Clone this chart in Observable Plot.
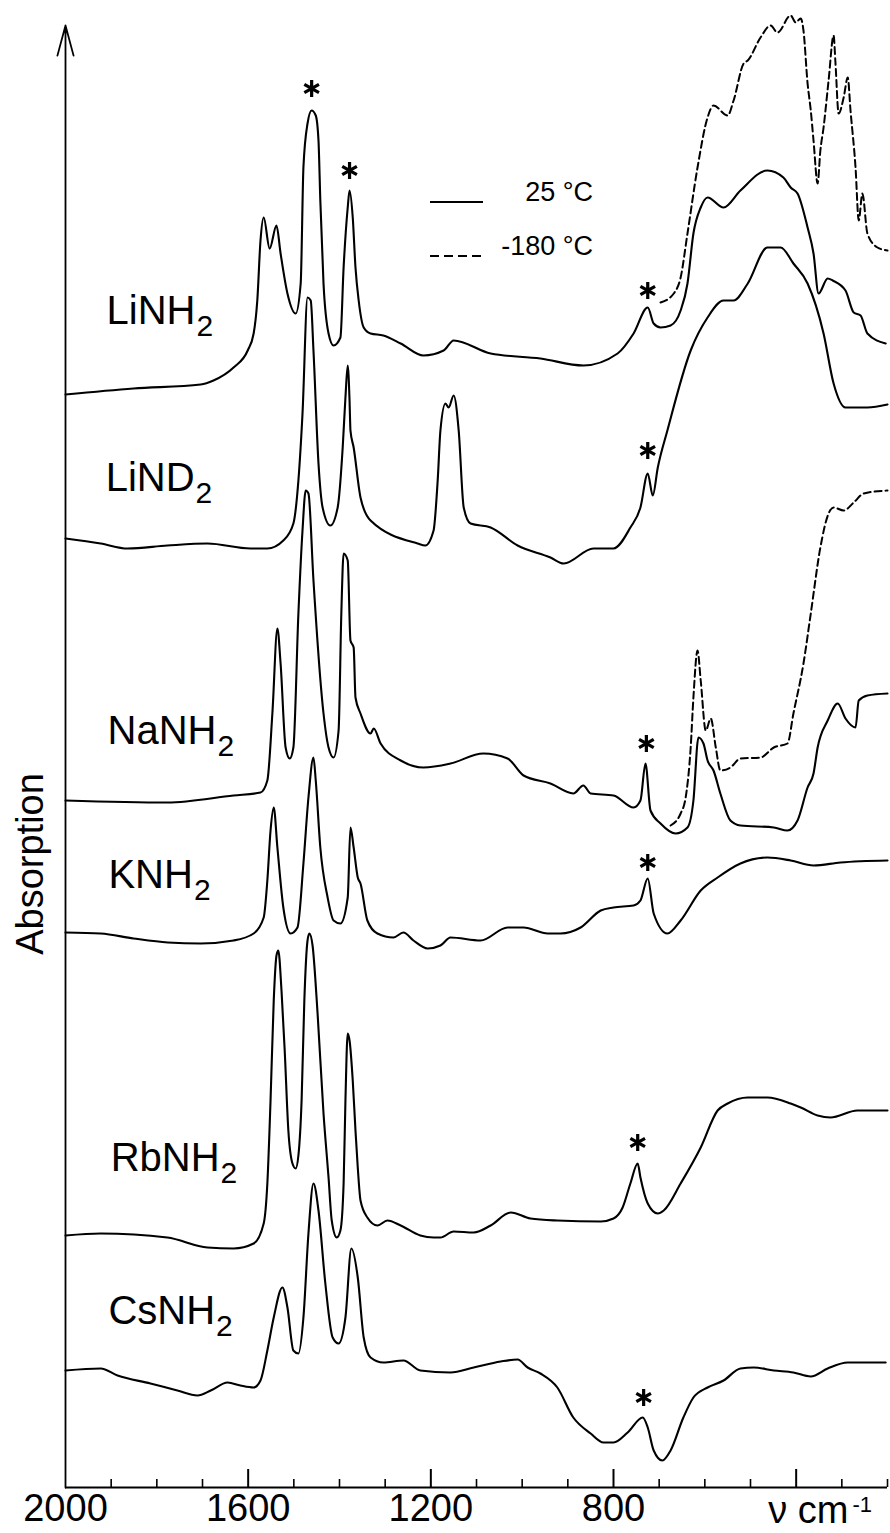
<!DOCTYPE html>
<html>
<head>
<meta charset="utf-8">
<script src="https://cdn.jsdelivr.net/npm/d3@7"></script>
<script src="https://cdn.jsdelivr.net/npm/@observablehq/plot@0.6"></script>
<style>
  html, body { margin: 0; padding: 0; background: #fff; }
  #chart { width: 890px; height: 1533px; }
</style>
</head>
<body>
<div id="chart"></div>
<script>
// ---------- DATA (wavenumber in cm-1, absorption in arbitrary stacked units) ----------
const liNH2_25 = [[2000,1093],[1851,1099],[1704,1103],[1676,1107],[1632,1120],[1601,1137],[1588,1154],[1580,1187],[1573,1247],[1566,1270],[1553,1239],[1538,1262],[1529,1234],[1514,1194],[1496,1174],[1485,1204],[1479,1320],[1470,1364],[1461,1377],[1452,1372],[1446,1347],[1442,1287],[1435,1204],[1424,1154],[1413,1142],[1398,1150],[1391,1220],[1382,1280],[1378,1297],[1371,1270],[1365,1220],[1358,1187],[1347,1160],[1332,1154],[1304,1152],[1266,1144],[1216,1132],[1172,1137],[1150,1147],[1069,1134],[960,1129],[866,1122],[791,1134],[756,1154],[725,1180],[712,1164],[697,1160],[675,1162],[653,1177],[638,1204],[625,1254],[609,1280],[594,1290],[559,1280],[522,1297],[463,1317],[428,1310],[412,1300],[397,1294],[375,1260],[362,1234],[351,1194],[331,1209],[320,1207],[292,1197],[274,1175],[259,1172],[244,1154],[204,1144]];
const liNH2_m180 = [[697,1185],[668,1194],[653,1210],[638,1254],[616,1320],[594,1370],[581,1382],[550,1372],[537,1387],[515,1424],[506,1427],[478,1450],[456,1462],[441,1455],[412,1472],[401,1465],[390,1469],[384,1457],[375,1404],[368,1377],[362,1347],[353,1304],[347,1337],[340,1360],[329,1407],[318,1452],[314,1425],[307,1374],[296,1390],[287,1410],[281,1377],[270,1320],[263,1267],[255,1294],[244,1254],[222,1240],[200,1237]];
const liND2_25 = [[2000,949],[1923,944],[1864,939],[1777,942],[1689,944],[1595,939],[1558,939],[1523,947],[1501,964],[1490,1007],[1481,1074],[1470,1190],[1463,1187],[1457,1137],[1446,1024],[1437,980],[1420,962],[1404,980],[1393,1040],[1387,1090],[1382,1122],[1378,1087],[1376,1057],[1369,1040],[1354,990],[1332,967],[1229,944],[1212,942],[1194,957],[1185,1007],[1179,1057],[1168,1084],[1161,1080],[1150,1092],[1139,1057],[1128,980],[1113,964],[1069,960],[1010,942],[938,930],[909,924],[844,939],[800,939],[763,960],[741,980],[725,1014],[714,992],[703,1020],[682,1057],[631,1137],[594,1170],[559,1187],[537,1187],[506,1204],[463,1240],[434,1240],[406,1224],[375,1204],[340,1154],[318,1104],[292,1080],[244,1080],[200,1083]];
const naNH2_25 = [[2000,687],[1777,685],[1632,692],[1573,695],[1558,707],[1547,774],[1536,859],[1529,824],[1518,740],[1509,729],[1501,740],[1490,874],[1481,957],[1474,997],[1468,994],[1457,907],[1435,774],[1424,740],[1413,730],[1402,757],[1396,874],[1391,934],[1382,927],[1376,847],[1369,840],[1365,790],[1354,774],[1332,754],[1325,759],[1310,744],[1266,727],[1216,720],[1157,724],[1085,734],[1032,729],[997,712],[938,704],[888,694],[866,702],[850,694],[800,692],[756,680],[741,687],[730,724],[719,677],[697,664],[664,654],[638,660],[625,687],[614,750],[603,744],[594,727],[581,717],[566,694],[544,667],[522,662],[449,660],[419,657],[397,667],[375,700],[362,714],[353,740],[331,767],[309,784],[292,769],[270,760],[263,787],[244,792],[200,794]];
const naNH2_m180 = [[675,662],[653,674],[642,690],[631,740],[625,790],[616,837],[609,807],[598,757],[587,769],[576,740],[566,717],[544,720],[522,729],[478,730],[449,740],[419,744],[406,774],[384,824],[368,874],[347,940],[329,974],[318,980],[296,977],[274,985],[252,994],[200,997]];
const kNH2_25 = [[2000,555],[1923,554],[1851,549],[1776,545],[1704,544],[1632,547],[1588,554],[1566,570],[1558,607],[1551,657],[1544,680],[1536,640],[1523,580],[1507,554],[1492,560],[1479,624],[1468,690],[1457,730],[1452,707],[1442,640],[1426,590],[1413,567],[1398,564],[1382,590],[1376,660],[1369,640],[1360,610],[1354,604],[1339,567],[1317,554],[1282,550],[1260,555],[1238,547],[1207,539],[1179,542],[1157,550],[1091,547],[1032,560],[997,560],[944,554],[916,554],[872,560],[828,577],[800,580],[756,582],[741,587],[725,609],[712,574],[682,554],[653,567],[609,597],[572,610],[522,624],[463,630],[412,627],[362,622],[303,625],[200,627]];
const rbNH2_25 = [[2000,252],[1923,254],[1777,250],[1689,240],[1632,239],[1588,244],[1566,264],[1558,304],[1551,387],[1544,487],[1538,532],[1534,537],[1527,497],[1520,437],[1512,357],[1503,324],[1496,319],[1490,332],[1483,387],[1477,487],[1470,547],[1466,554],[1459,542],[1448,474],[1435,374],[1424,310],[1417,267],[1406,250],[1398,257],[1391,304],[1387,387],[1382,454],[1378,447],[1371,407],[1365,357],[1360,320],[1354,287],[1339,270],[1317,262],[1295,267],[1266,262],[1223,252],[1194,250],[1179,250],[1150,256],[1106,255],[1069,262],[1025,275],[982,269],[923,267],[828,266],[800,269],[780,280],[763,304],[747,324],[741,310],[725,284],[703,274],[690,277],[653,304],[609,340],[572,377],[550,384],[506,390],[463,390],[412,384],[390,380],[353,372],[325,370],[266,377],[200,377]];
const csNH2_25 = [[2000,117],[1923,119],[1886,112],[1814,104],[1755,97],[1711,92],[1682,97],[1645,105],[1617,102],[1588,100],[1573,107],[1558,137],[1544,170],[1525,200],[1514,180],[1501,137],[1490,134],[1479,170],[1468,254],[1457,304],[1446,277],[1431,204],[1415,150],[1402,144],[1387,170],[1374,239],[1360,210],[1347,150],[1332,130],[1304,125],[1260,127],[1223,117],[1157,115],[1106,120],[1047,126],[1010,128],[988,120],[960,114],[923,100],[888,70],[850,54],[822,45],[800,45],[769,55],[736,70],[725,60],[712,37],[693,27],[675,37],[647,70],[625,90],[594,100],[559,107],[522,119],[493,120],[449,117],[406,115],[368,111],[331,119],[287,125],[204,125]];

// starred bands (nujol)
const starNu = [1461, 1378, 725, 725, 728, 725, 747, 734];
const starA  = [1399, 1317, 1197, 1037, 744, 625, 345, 90];

// compound labels
const labelNames = ["LiNH2", "LiND2", "NaNH2", "KNH2", "RbNH2", "CsNH2"];
const labelNu    = [1910, 1912, 1908, 1906, 1901, 1906];
const labelA     = [1164, 997, 744, 600, 317, 164];

// axis
const tickLabels = [2000, 1600, 1200, 800];
const majorTicks = [1600, 1200, 800, 400];
const minorTicks = [1900, 1800, 1700, 1500, 1400, 1300, 1100, 1000, 900, 700, 600, 500, 300, 200];
const unitLabel = [{nu: 400, text: "ν cm"}];
const unitSup = "-1";
const legendLabels = ["25 °C", "-180 °C"];
const axisTop = 1462;

// ---------- build tables ----------
const series = [
  {name: "LiNH2", temp: "25", values: liNH2_25},
  {name: "LiNH2", temp: "-180", values: liNH2_m180},
  {name: "LiND2", temp: "25", values: liND2_25},
  {name: "NaNH2", temp: "25", values: naNH2_25},
  {name: "NaNH2", temp: "-180", values: naNH2_m180},
  {name: "KNH2", temp: "25", values: kNH2_25},
  {name: "RbNH2", temp: "25", values: rbNH2_25},
  {name: "CsNH2", temp: "25", values: csNH2_25}
];
const rows = series.flatMap(s => s.values.map(([nu, a]) => ({key: s.name + "_" + s.temp, temp: s.temp, nu, a})));
const warm = rows.filter(d => d.temp === "25");
const cold = rows.filter(d => d.temp === "-180");
const stars = starNu.map((nu, i) => ({nu, a: starA[i]}));
const labels = labelNames.map((name, i) => ({name, nu: labelNu[i], a: labelA[i]}));

const FONT = "'Liberation Sans', Arial, Helvetica, sans-serif";

const svg = Plot.plot({
  width: 890,
  height: 1533,
  marginLeft: 65,
  marginRight: 3,
  marginTop: 0,
  marginBottom: 46,
  style: {background: "#fff", fontFamily: FONT, color: "#000", overflow: "visible"},
  x: {domain: [2000, 200], axis: null},
  y: {domain: [0, 1487], axis: null},
  marks: [
    Plot.ruleY([0], {stroke: "#000", strokeWidth: 2}),
    Plot.arrow([{nu: 2000, a0: 0, a1: axisTop}], {x1: "nu", x2: "nu", y1: "a0", y2: "a1", stroke: "#000", strokeWidth: 1.8, headLength: 26, headAngle: 30}),
    Plot.ruleX(majorTicks, {x: d => d, y1: () => 0, y2: () => 18, stroke: "#000", strokeWidth: 2}),
    Plot.ruleX(minorTicks, {x: d => d, y1: () => 0, y2: () => 8, stroke: "#000", strokeWidth: 1.6}),
    Plot.text(tickLabels, {x: d => d, y: () => 0, text: d => String(d), dy: 33, lineAnchor: "bottom", fontSize: 38, fill: "#000"}),
    Plot.text(unitLabel, {x: "nu", y: () => 0, text: "text", dx: -28, dy: 35, textAnchor: "start", lineAnchor: "bottom", fontSize: 38, fill: "#000"}),
    Plot.line(warm, {x: "nu", y: "a", z: "key", stroke: "#000", strokeWidth: 2.1, curve: "monotone-x"}),
    Plot.line(cold, {x: "nu", y: "a", z: "key", stroke: "#000", strokeWidth: 2, strokeDasharray: "7,4", curve: "monotone-x"}),
    Plot.dot(stars, {x: "nu", y: "a", symbol: "asterisk", r: 8, stroke: "#000", strokeWidth: 3.2, fill: "none"}),
    Plot.text(labels, {x: "nu", y: "a", text: "name", textAnchor: "start", lineAnchor: "bottom", fontSize: 40, fill: "#000"})
  ]
});

// subscripts in compound labels, superscript in unit label
d3.select(svg).selectAll("text").each(function () {
  const s = this.textContent;
  if (labelNames.includes(s)) {
    this.textContent = s.slice(0, -1);
    d3.select(this).append("tspan").attr("dx", 1).attr("dy", 12).attr("font-size", 30).text(s.slice(-1));
  } else if (s === unitLabel[0].text) {
    d3.select(this).append("tspan").attr("dx", 4).attr("dy", -11).attr("font-size", 22).text(unitSup);
  }
});

// y-axis title
const root = d3.select(svg);
root.append("text")
  .attr("transform", "translate(43,864) rotate(-90)")
  .attr("text-anchor", "middle")
  .attr("font-size", 38)
  .attr("font-family", FONT)
  .attr("fill", "#000")
  .text("Absorption");

// legend
const lg = root.append("g").attr("font-family", FONT).attr("font-size", 27).attr("fill", "#000");
lg.append("line").attr("x1", 430).attr("x2", 483).attr("y1", 202).attr("y2", 202).attr("stroke", "#000").attr("stroke-width", 2);
lg.append("line").attr("x1", 430).attr("x2", 485).attr("y1", 256).attr("y2", 256).attr("stroke", "#000").attr("stroke-width", 2).attr("stroke-dasharray", "9,5");
lg.append("text").attr("x", 593).attr("y", 201).attr("text-anchor", "end").text(legendLabels[0]);
lg.append("text").attr("x", 593).attr("y", 255).attr("text-anchor", "end").text(legendLabels[1]);

document.getElementById("chart").appendChild(svg);
</script>
</body>
</html>
